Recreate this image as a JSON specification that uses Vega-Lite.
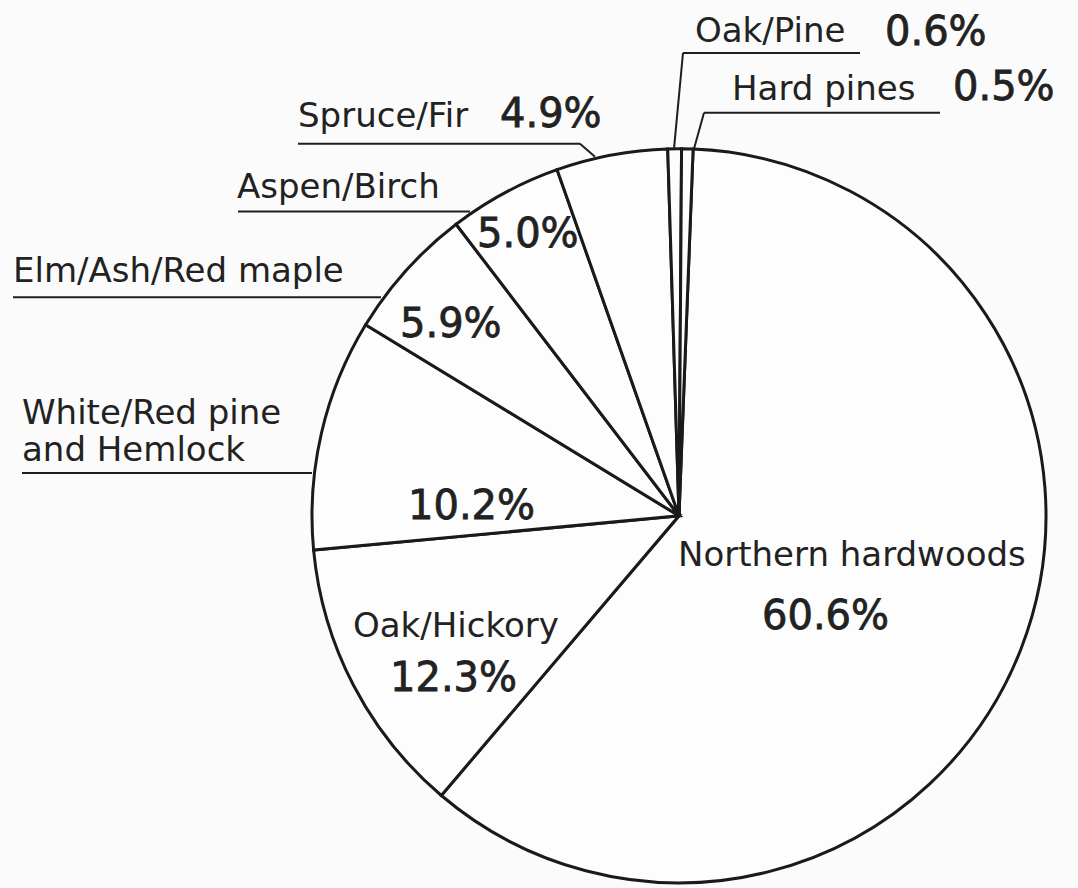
{
  "$schema": "https://vega.github.io/schema/vega-lite/v6.json",
  "width": 1078,
  "height": 888,
  "padding": 0,
  "autosize": {"type": "fit", "contains": "padding"},
  "background": "#fbfbfb",
  "config": {"view": {"stroke": null}},
  "datasets": {
    "slices": [
      {"type": "Northern hardwoods", "pct": 60.6, "order": 1},
      {"type": "Oak/Hickory", "pct": 12.3, "order": 2},
      {"type": "White/Red pine and Hemlock", "pct": 10.2, "order": 3},
      {"type": "Elm/Ash/Red maple", "pct": 5.9, "order": 4},
      {"type": "Aspen/Birch", "pct": 5.0, "order": 5},
      {"type": "Spruce/Fir", "pct": 4.9, "order": 6},
      {"type": "Oak/Pine", "pct": 0.6, "order": 7},
      {"type": "Hard pines", "pct": 0.5, "order": 8}
    ],
    "names": [
      {"label": "Oak/Pine", "x": 16, "y": 475},
      {"label": "Hard pines", "x": 53, "y": 417},
      {"label": "Spruce/Fir", "x": -381, "y": 390},
      {"label": "Aspen/Birch", "x": -442, "y": 319},
      {"label": "Elm/Ash/Red maple", "x": -666, "y": 234},
      {"label": "White/Red pine\nand Hemlock", "x": -657, "y": 92},
      {"label": "Oak/Hickory", "x": -326, "y": -121},
      {"label": "Northern hardwoods", "x": -1, "y": -50}
    ],
    "percents": [
      {"label": "0.6%", "x": 206, "y": 472},
      {"label": "0.5%", "x": 274, "y": 417},
      {"label": "4.9%", "x": -179, "y": 390},
      {"label": "5.0%", "x": -202, "y": 269},
      {"label": "5.9%", "x": -279, "y": 179},
      {"label": "10.2%", "x": -271, "y": -3},
      {"label": "12.3%", "x": -289, "y": -176},
      {"label": "60.6%", "x": 83, "y": -113}
    ],
    "leaders": [
      {"x": 4, "y": 464, "x2": 181, "y2": 464},
      {"x": 4, "y": 464, "x2": -5, "y2": 368},
      {"x": 25, "y": 404, "x2": 261, "y2": 404},
      {"x": 25, "y": 404, "x2": 15, "y2": 368},
      {"x": -381, "y": 373, "x2": -99, "y2": 373},
      {"x": -99, "y": 373, "x2": -84, "y2": 360},
      {"x": -441, "y": 305, "x2": -209, "y2": 305},
      {"x": -666, "y": 219, "x2": -298, "y2": 219},
      {"x": -657, "y": 43, "x2": -367, "y2": 43}
    ]
  },
  "layer": [
    {
      "data": {"name": "slices"},
      "mark": {"type": "arc", "outerRadius": 367, "stroke": "#1a1a1a", "strokeWidth": 3, "fill": "#fdfdfd"},
      "encoding": {
        "theta": {"field": "pct", "type": "quantitative", "stack": true, "scale": {"range": [0.0384, 6.3216]}},
        "order": {"field": "order", "type": "quantitative"},
        "x": {"datum": 0, "type": "quantitative", "scale": {"domain": [-679, 399], "nice": false, "zero": false}, "axis": null},
        "y": {"datum": 0, "type": "quantitative", "scale": {"domain": [-371, 517], "nice": false, "zero": false}, "axis": null}
      }
    },
    {
      "data": {"name": "leaders"},
      "mark": {"type": "rule", "stroke": "#1e1e1e", "strokeWidth": 2},
      "encoding": {
        "x": {"field": "x", "type": "quantitative", "scale": {"domain": [-679, 399], "nice": false, "zero": false}, "axis": null},
        "y": {"field": "y", "type": "quantitative", "scale": {"domain": [-371, 517], "nice": false, "zero": false}, "axis": null},
        "x2": {"field": "x2"},
        "y2": {"field": "y2"}
      }
    },
    {
      "data": {"name": "names"},
      "mark": {"type": "text", "align": "left", "baseline": "alphabetic", "font": "DejaVu Sans", "fontSize": 34, "fill": "#222222", "lineBreak": "\n", "lineHeight": 37},
      "encoding": {
        "x": {"field": "x", "type": "quantitative", "scale": {"domain": [-679, 399], "nice": false, "zero": false}, "axis": null},
        "y": {"field": "y", "type": "quantitative", "scale": {"domain": [-371, 517], "nice": false, "zero": false}, "axis": null},
        "text": {"field": "label"}
      }
    },
    {
      "data": {"name": "percents"},
      "mark": {"type": "text", "align": "left", "baseline": "alphabetic", "font": "DejaVu Sans", "fontSize": 40, "fill": "#222222", "stroke": "#222222", "strokeWidth": 0.8},
      "encoding": {
        "x": {"field": "x", "type": "quantitative", "scale": {"domain": [-679, 399], "nice": false, "zero": false}, "axis": null},
        "y": {"field": "y", "type": "quantitative", "scale": {"domain": [-371, 517], "nice": false, "zero": false}, "axis": null},
        "text": {"field": "label"}
      }
    }
  ]
}
